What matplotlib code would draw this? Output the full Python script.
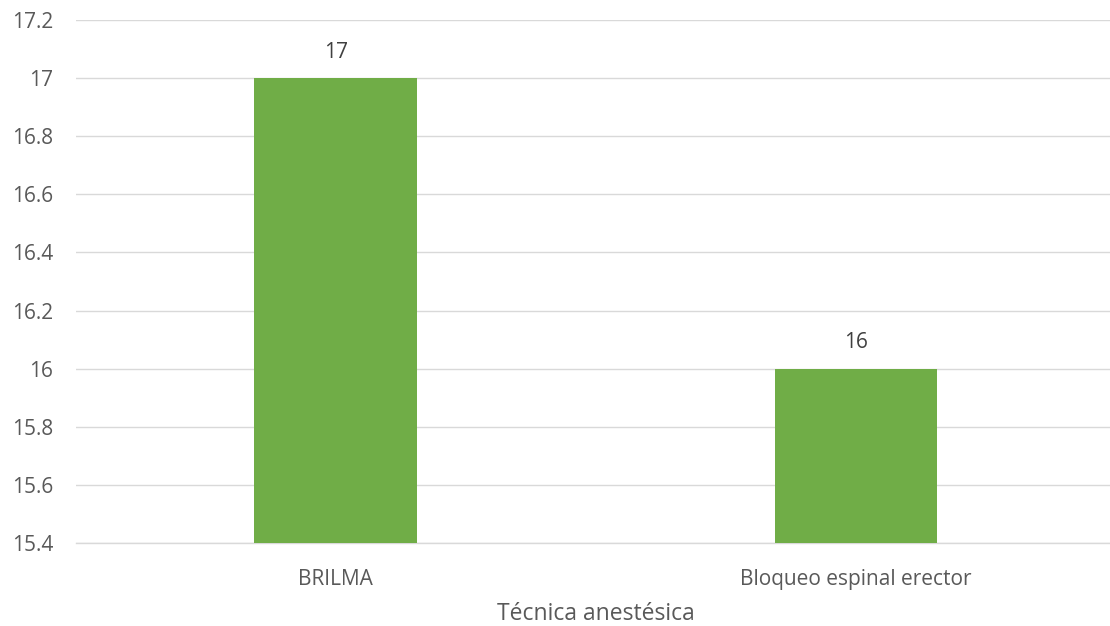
import matplotlib
matplotlib.use("Agg")
import matplotlib.pyplot as plt
from matplotlib.ticker import MultipleLocator, FuncFormatter

categories = ["BRILMA", "Bloqueo espinal erector"]
values = [17, 16]
value_labels = ["17", "16"]
x_title = "Técnica anestésica"

plt.rcParams['font.family'] = ['Open Sans', 'DejaVu Sans']
text_color = "#595959"
grid_color = "#D9D9D9"
bar_color = "#70AD47"

W, H = 1110, 626
fig = plt.figure(figsize=(W / 100, H / 100), dpi=100)
left, right = 75.5, 1116.0
top, bottom = 20.0, 543.0
ax = fig.add_axes([left / W, 1 - bottom / H, (right - left) / W, (bottom - top) / H])

xs = list(range(len(categories)))
ax.bar(xs, [v - 15.4 for v in values], bottom=15.4, width=0.3125, color=bar_color, zorder=3)
ax.set_xlim(-0.5, len(categories) - 0.5)
ax.set_ylim(15.4, 17.2)

ax.yaxis.set_major_locator(MultipleLocator(0.2))
ax.yaxis.set_major_formatter(FuncFormatter(lambda v, p: f"{v:.1f}".rstrip("0").rstrip(".")))
ax.grid(axis="y", color=grid_color, linewidth=1.0, zorder=0)
for s in ["left", "right", "top"]:
    ax.spines[s].set_visible(False)
ax.spines["bottom"].set_color(grid_color)
ax.spines["bottom"].set_linewidth(1.0)

ax.set_xticks(xs)
ax.set_xticklabels(categories)
ax.tick_params(axis="both", length=0, labelsize=15, colors=text_color)
ax.tick_params(axis="y", pad=16)
ax.tick_params(axis="x", pad=19)

for x, v, lab in zip(xs, values, value_labels):
    ax.annotate(lab, (x, v), xytext=(0, 11), textcoords="offset points",
                ha="center", va="bottom", fontsize=15, color="#404040")

ax.set_xlabel(x_title, fontsize=16.5, color=text_color, labelpad=8)

fig.savefig("out.png", dpi=100)
